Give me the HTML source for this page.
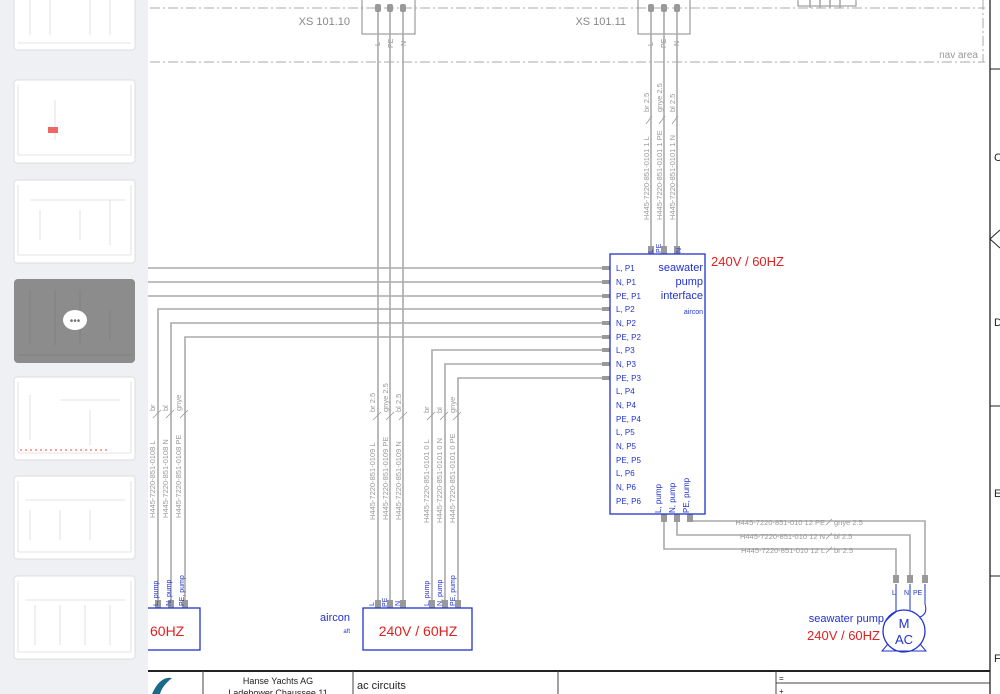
<!DOCTYPE html>
<html><head><meta charset="utf-8"><style>
html,body{margin:0;padding:0;width:1000px;height:694px;overflow:hidden;background:#fff}
svg{display:block}
text{font-family:"Liberation Sans",sans-serif}
</style></head><body>
<svg width="1000" height="694" viewBox="0 0 1000 694" xmlns="http://www.w3.org/2000/svg">

<!-- frame -->
<g stroke="#aaa" stroke-width="1" stroke-dasharray="10 3 2 3" fill="none">
<path d="M150 8H985M150 62H985M983 0V62"/>
</g>
<text x="978" y="58" font-size="10" fill="#999" text-anchor="end">nav area</text>
<path d="M990 0V694" stroke="#222" stroke-width="1.3"/>
<path d="M990 69H1000M990 406H1000M990 576H1000" stroke="#222" stroke-width="1"/>
<path d="M1000 230L990 239L1000 248" stroke="#222" fill="none"/>
<g font-size="11" fill="#222"><text x="994" y="161">C</text><text x="994" y="326">D</text><text x="994" y="497">E</text><text x="994" y="662">F</text></g>

<!-- XS boxes -->
<rect x="362" y="-2" width="53" height="36" fill="none" stroke="#888"/>
<rect x="638" y="-2" width="52" height="36" fill="none" stroke="#888"/>
<rect x="798" y="-2" width="58" height="8" fill="none" stroke="#888"/>
<text x="350" y="25" font-size="11" fill="#888" text-anchor="end">XS 101.10</text>
<text x="626" y="25" font-size="11" fill="#888" text-anchor="end">XS 101.11</text>
<g font-size="7" fill="#888">
<text transform="translate(380,46) rotate(-90)">L</text><text transform="translate(393,48) rotate(-90)">PE</text><text transform="translate(406,46) rotate(-90)">N</text>
<text transform="translate(653,46) rotate(-90)">L</text><text transform="translate(666,48) rotate(-90)">PE</text><text transform="translate(679,46) rotate(-90)">N</text>
</g>

<!-- wires -->
<g stroke="#aaa" stroke-width="1.6" fill="none">
<path d="M378 4V604M390 4V604M403 4V604"/>
<path d="M651 4V248M664 4V248M677 4V248"/>
<path d="M148 268H604M148 282H604M148 296H604"/>
<path d="M158 604V309H604M171 604V323H604M185 604V337H604"/>
<path d="M432 604V350H604M445 604V364H604M458 604V378H604"/>
<path d="M690 518V521H925V578M677 518V535H910V578M664 518V549H896V578"/>
<path d="M810 8V0M820 8V0M830 8V0M840 8V0"/>
</g>
<path d="M896 584V604M910 584V604M925 584V604" stroke="#2233cc" stroke-width="1" fill="none"/>
<!-- pins -->
<g fill="#999">
<rect x="375" y="4" width="6" height="8" rx="2"/><rect x="387" y="4" width="6" height="8" rx="2"/><rect x="400" y="4" width="6" height="8" rx="2"/>
<rect x="648" y="4" width="6" height="8" rx="2"/><rect x="661" y="4" width="6" height="8" rx="2"/><rect x="674" y="4" width="6" height="8" rx="2"/>
<rect x="648" y="246" width="6" height="8"/><rect x="661" y="246" width="6" height="8"/><rect x="674" y="246" width="6" height="8"/>
<rect x="661" y="514" width="6" height="8"/><rect x="674" y="514" width="6" height="8"/><rect x="687" y="514" width="6" height="8"/>
<rect x="893" y="575" width="6" height="8"/><rect x="907" y="575" width="6" height="8"/><rect x="922" y="575" width="6" height="8"/>
<rect x="602" y="266" width="8" height="4"/><rect x="602" y="280" width="8" height="4"/><rect x="602" y="294" width="8" height="4"/>
<rect x="602" y="307" width="8" height="4"/><rect x="602" y="321" width="8" height="4"/><rect x="602" y="335" width="8" height="4"/>
<rect x="602" y="348" width="8" height="4"/><rect x="602" y="362" width="8" height="4"/><rect x="602" y="376" width="8" height="4"/>
<rect x="155" y="600" width="6" height="8"/><rect x="168" y="600" width="6" height="8"/><rect x="182" y="600" width="6" height="8"/>
<rect x="375" y="600" width="6" height="8"/><rect x="387" y="600" width="6" height="8"/><rect x="400" y="600" width="6" height="8"/>
<rect x="429" y="600" width="6" height="8"/><rect x="442" y="600" width="6" height="8"/><rect x="455" y="600" width="6" height="8"/>
</g>

<!-- cable labels -->
<g font-size="7.5" fill="#999">
<text transform="translate(649,220) rotate(-90)">H445-7220-851-0101 1 L</text>
<text transform="translate(662,220) rotate(-90)">H445-7220-851-0101 1 PE</text>
<text transform="translate(675,220) rotate(-90)">H445-7220-851-0101 1 N</text>
<text transform="translate(649,112) rotate(-90)">br  2.5</text>
<text transform="translate(662,112) rotate(-90)">gnye 2.5</text>
<text transform="translate(675,112) rotate(-90)">bl  2.5</text>
<text transform="translate(375,520) rotate(-90)">H445-7220-851-0109 L</text>
<text transform="translate(388,520) rotate(-90)">H445-7220-851-0109 PE</text>
<text transform="translate(401,520) rotate(-90)">H445-7220-851-0109 N</text>
<text transform="translate(375,412) rotate(-90)">br  2.5</text>
<text transform="translate(388,412) rotate(-90)">gnye 2.5</text>
<text transform="translate(401,412) rotate(-90)">bl  2.5</text>
<text transform="translate(429,523) rotate(-90)">H445-7220-851-0101 0 L</text>
<text transform="translate(442,523) rotate(-90)">H445-7220-851-0101 0 N</text>
<text transform="translate(455,523) rotate(-90)">H445-7220-851-0101 0 PE</text>
<text transform="translate(429,413) rotate(-90)">br</text>
<text transform="translate(442,413) rotate(-90)">bl</text>
<text transform="translate(455,413) rotate(-90)">gnye</text>
<text transform="translate(155,518) rotate(-90)">H445-7220-851-0108 L</text>
<text transform="translate(168,518) rotate(-90)">H445-7220-851-0108 N</text>
<text transform="translate(181,518) rotate(-90)">H445-7220-851-0108 PE</text>
<text transform="translate(155,411) rotate(-90)">br</text>
<text transform="translate(168,411) rotate(-90)">bl</text>
<text transform="translate(181,411) rotate(-90)">gnye</text>
<text x="825" y="525" text-anchor="end">H445-7220-851-010 12 PE</text>
<text x="825" y="539" text-anchor="end">H445-7220-851-010 12 N</text>
<text x="825" y="553" text-anchor="end">H445-7220-851-010 12 L</text>
<text x="834" y="525">gnye  2.5</text><text x="834" y="539">bl   2.5</text><text x="834" y="553">br   2.5</text>
</g>
<g stroke="#999" stroke-width="0.8">
<path d="M646 124L652 116M659 124L665 116M672 124L678 116"/>
<path d="M373 420L381 412M386 420L394 412M399 420L407 412"/>
<path d="M427 420L435 412M440 420L448 412M453 420L461 412"/>
<path d="M153 418L161 410M166 418L174 410M180 418L188 410"/>
<path d="M826 525L832 519M826 539L832 533M826 553L832 547"/>
</g>

<!-- interface box -->
<rect x="610" y="254" width="95" height="260" fill="none" stroke="#2233cc" stroke-width="1.3"/>
<g font-size="8" fill="#2233cc">
<text x="616" y="271">L, P1</text><text x="616" y="285">N, P1</text><text x="616" y="299">PE, P1</text>
<text x="616" y="312">L, P2</text><text x="616" y="326">N, P2</text><text x="616" y="340">PE, P2</text>
<text x="616" y="353">L, P3</text><text x="616" y="367">N, P3</text><text x="616" y="381">PE, P3</text>
<text x="616" y="394">L, P4</text><text x="616" y="408">N, P4</text><text x="616" y="422">PE, P4</text>
<text x="616" y="435">L, P5</text><text x="616" y="449">N, P5</text><text x="616" y="463">PE, P5</text>
<text x="616" y="476">L, P6</text><text x="616" y="490">N, P6</text><text x="616" y="504">PE, P6</text>
<text transform="translate(661,513) rotate(-90)">L, pump</text>
<text transform="translate(675,513) rotate(-90)">N, pump</text>
<text transform="translate(689,513) rotate(-90)">PE, pump</text>
</g>
<g font-size="7" fill="#2233cc">
<text transform="translate(653,253) rotate(-90)">L</text>
<text transform="translate(661,253) rotate(-90)">PE</text>
<text transform="translate(681,253) rotate(-90)">N</text>
</g>
<g font-size="11" fill="#2233cc" text-anchor="end">
<text x="703" y="271">seawater</text><text x="703" y="285">pump</text><text x="703" y="299">interface</text>
<text x="703" y="314" font-size="7">aircon</text>
</g>
<text x="711" y="266" font-size="13" fill="#e02020">240V / 60HZ</text>

<!-- bottom boxes -->
<rect x="140" y="608" width="60" height="42" fill="none" stroke="#2233cc" stroke-width="1.3"/>
<text x="150" y="636" font-size="14" fill="#e02020">60HZ</text>
<rect x="363" y="608" width="109" height="42" fill="none" stroke="#2233cc" stroke-width="1.3"/>
<text x="418" y="636" font-size="14" fill="#e02020" text-anchor="middle">240V / 60HZ</text>
<text x="350" y="621" font-size="11" fill="#2233cc" text-anchor="end">aircon</text>
<text x="350" y="633" font-size="6" fill="#2233cc" text-anchor="end">aft</text>
<g font-size="7" fill="#2233cc">
<text transform="translate(158,606) rotate(-90)">L, pump</text>
<text transform="translate(171,606) rotate(-90)">N, pump</text>
<text transform="translate(184,606) rotate(-90)">PE, pump</text>
<text transform="translate(374,606) rotate(-90)">L</text>
<text transform="translate(387,607) rotate(-90)">PE</text>
<text transform="translate(400,606) rotate(-90)">N</text>
<text transform="translate(429,606) rotate(-90)">L, pump</text>
<text transform="translate(442,606) rotate(-90)">N, pump</text>
<text transform="translate(455,606) rotate(-90)">PE, pump</text>
<text x="892" y="595">L</text><text x="904" y="595">N</text><text x="913" y="595">PE</text>
</g>
<!-- motor -->
<circle cx="904" cy="631" r="21" fill="#fff" stroke="#2233cc" stroke-width="1.3"/>
<path d="M896 604V612M910 604V610M925 604Q928 614 920 617M896 612Q890 616 885 622" stroke="#2233cc" fill="none"/>
<path d="M888 644L882 651H926L920 644" stroke="#2233cc" fill="none"/>
<text x="904" y="628" font-size="13" fill="#2233cc" text-anchor="middle">M</text>
<text x="904" y="644" font-size="13" fill="#2233cc" text-anchor="middle">AC</text>
<text x="884" y="622" font-size="11" fill="#2233cc" text-anchor="end">seawater pump</text>
<text x="880" y="640" font-size="13" fill="#e02020" text-anchor="end">240V / 60HZ</text>

<!-- title block -->
<path d="M148 671H990" stroke="#222" stroke-width="2"/>
<g stroke="#444" stroke-width="1"><path d="M203 671V694M353 671V694M558 671V694M776 671V694M776 683H990"/></g>
<path d="M152 694Q160 676 172 678Q162 686 160 694Z" fill="#1a6a8a"/>
<text x="278" y="684" font-size="9" fill="#222" text-anchor="middle">Hanse Yachts AG</text>
<text x="278" y="696" font-size="9" fill="#222" text-anchor="middle">Ladebower Chaussee 11</text>
<text x="357" y="689" font-size="11" fill="#222">ac circuits</text>
<text x="779" y="681" font-size="8" fill="#222">=</text>
<text x="779" y="694" font-size="8" fill="#222">+</text>

<!-- sidebar (drawn last to cover) -->
<rect x="0" y="0" width="148" height="694" fill="#eef0f4"/>
<g fill="#fff" stroke="#ddd" stroke-width="1">
<rect x="14" y="-10" width="121" height="60" rx="3"/>
<rect x="14" y="80" width="121" height="83" rx="3"/>
<rect x="14" y="180" width="121" height="83" rx="3"/>
<rect x="14" y="377" width="121" height="83" rx="3"/>
<rect x="14" y="476" width="121" height="83" rx="3"/>
<rect x="14" y="576" width="121" height="83" rx="3"/>
</g>
<rect x="14" y="279" width="121" height="84" rx="4" fill="#8c8c8c"/>
<g stroke="#ccc" stroke-width="0.6" fill="none">
<path d="M18 43H131M18 155H131M18 255H131M18 453H131M18 552H131M18 652H131"/>
<path d="M18 85V155M131 85V155M18 185V255M131 185V255M18 382V453M131 382V453M18 481V552M131 481V552M18 581V652M131 581V652"/>
<path d="M55 100V140M30 200H125M40 210V240M80 210V240M110 200V245M30 395V440M60 400H120M90 410V445M25 500H125M30 510V540M60 510V540M90 510V540M25 600H125M35 605V645M60 605V645M85 605V645M110 605V645"/>
<path d="M30 0V35M50 0V35M90 0V35M110 0V35"/>
</g>
<g stroke="#777" stroke-width="0.6" fill="none"><path d="M18 355H131M30 290V345M55 290V345M80 290V345M110 310V340"/></g>
<rect x="48" y="127" width="10" height="6" fill="#e66"/>
<path d="M20 450H110" stroke="#e44" stroke-width="1" stroke-dasharray="2 3"/>
<ellipse cx="75" cy="320" rx="12" ry="10" fill="#fff"/>
<text x="75" y="324" font-size="10" text-anchor="middle" fill="#777">•••</text>
</svg>
</body></html>
